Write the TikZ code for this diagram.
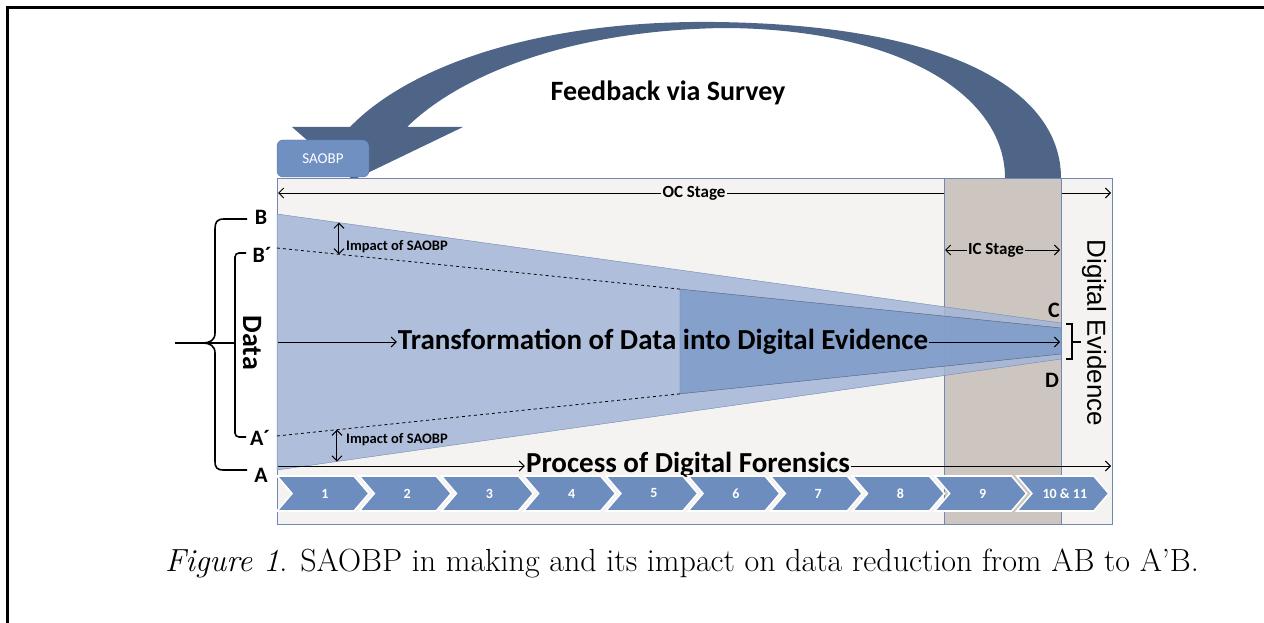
\documentclass[tikz,border=0pt]{standalone}
\usepackage{fontspec}
\usetikzlibrary{arrows.meta,calc}
\newfontfamily\calfont{Carlito}
\newfontfamily\arialfont{Liberation Sans}
\definecolor{boxbg}{HTML}{F5F3F1}
\definecolor{boxline}{HTML}{6F89B3}
\definecolor{icband}{HTML}{CDC5BF}
\definecolor{funnelout}{HTML}{A3B5D6}
\definecolor{funnelin}{HTML}{7E9BC9}
\definecolor{chevfill}{HTML}{6D8DBF}
\definecolor{fbarrow}{HTML}{4E6587}
\definecolor{saobpfill}{HTML}{7090C2}
\definecolor{saobpline}{HTML}{5570A0}

\begin{document}
\begin{tikzpicture}[x=1pt,y=-1pt,
    lbl/.style={font=\calfont\bfseries\fontsize{22}{24}\selectfont, inner sep=0pt},
    big/.style={font=\calfont\bfseries\fontsize{29}{32}\selectfont, inner sep=1pt},
    stage/.style={font=\calfont\bfseries\fontsize{17}{19}\selectfont, inner sep=1pt},
    small/.style={font=\calfont\bfseries\fontsize{14.5}{16}\selectfont, inner sep=1pt},
    arr/.style={-{Straight Barb[length=5pt,width=10pt]}, line width=1pt},
    darr/.style={{Straight Barb[length=5pt,width=10pt]}-{Straight Barb[length=5pt,width=10pt]}, line width=1pt},
    chev/.style={fill=chevfill, draw=white, line width=1.6pt},
    chevtxt/.style={font=\calfont\bfseries\fontsize{14}{16}\selectfont, text=white}]

    \useasboundingbox (0,0) rectangle (1264,623);

    % frame of the page
    \draw[line width=3pt] (7.5,623) -- (7.5,7.5) -- (1264,7.5);

    % feedback arrow
    \fill[fbarrow] (1061,178) .. controls (1061,95) and (960,25) .. (715,22)
        .. controls (540,20) and (410,65) .. (350,127) -- (292,127) -- (353,180)
        -- (463,127) -- (407,127) .. controls (460,75) and (570,30) .. (725,28)
        .. controls (900,29) and (1005,95) .. (1005,178) -- cycle;
    \node[font=\calfont\bfseries\fontsize{28}{32}\selectfont] (feedback) at (668,93) {Feedback via Survey};

    % main box
    \draw[boxline, fill=boxbg] (277,178) rectangle (1112,524);
    \node[stage, fill=boxbg] (oc) at (694,193) {OC Stage};
    \draw[arr] (oc.west) -- (278,193);
    \draw[arr] (oc.east) -- (1111,193);

    % IC stage band
    \draw[boxline, fill=icband] (944,178) rectangle (1061,524);
    \node[stage] (ic) at (996,250) {IC Stage};
    \draw[arr] (ic.west) -- (945,250);
    \draw[arr] (ic.east) -- (1060,250);

    % funnel
    \coordinate (B) at (277,214);
    \coordinate (A) at (277,470);
    \coordinate (C) at (1061,323);
    \coordinate (D) at (1061,359);
    \coordinate (Bp) at (277,248);
    \coordinate (Ap) at (277,436);
    \coordinate (Ci) at (1061,328);
    \coordinate (Di) at (1061,354);
    \coordinate (Ei) at ($(Bp)!0.514!(Ci)$);
    \coordinate (Fi) at ($(Ap)!0.514!(Di)$);
    \fill[funnelout, fill opacity=0.85] (B) -- (C) -- (D) -- (A) -- cycle;
    \fill[funnelin, fill opacity=0.85] (Ei) -- (Ci) -- (Di) -- (Fi) -- cycle;
    \draw[boxline] (B) -- (C) (A) -- (D) (Ei) -- (Fi) (B) -- (A);
    \draw[boxline!70!black, thin] (Ei) -- (Ci) (Fi) -- (Di);
    \draw[dashed, line width=0.8pt] (Bp) -- (Ei);
    \draw[dashed, line width=0.8pt] (Ap) -- (Fi);

    % impact of SAOBP
    \coordinate (i1) at ($(B)!0.079!(C)$);
    \coordinate (i2) at ($(Bp)!0.079!(Ci)$);
    \coordinate (i3) at ($(Ap)!0.0765!(Di)$);
    \coordinate (i4) at ($(A)!0.0765!(D)$);
    \draw[darr] (i1) -- (i2);
    \draw[darr] (i3) -- (i4);
    \node[small, anchor=west] (imp1) at (345,247) {Impact of SAOBP};
    \node[small, anchor=west] (imp2) at (345,440) {Impact of SAOBP};

    % transformation
    \node[big] (trans) at (663,342) {Transformation of Data into Digital Evidence};
    \coordinate (tin) at (278,342);
    \coordinate (tout) at (1060,342);
    \draw[arr] (tin) -- (trans.west);
    \draw[arr] (trans.east) -- (tout);

    % digital evidence
    \node[lbl] (lc) at (1054,310) {C};
    \node[lbl] (ld) at (1052,380) {D};
    \draw[line width=1.2pt] (1066,324) -- (1072,324) -- (1072,359) -- (1066,359);
    \draw[line width=1.2pt] (1072,342) -- (1081,342);
    \node[font=\arialfont\fontsize{26}{28}\selectfont, rotate=-90] (digev) at (1094,333) {Digital Evidence};

    % process of digital forensics
    \node[big] (proc) at (688,465) {Process of Digital Forensics};
    \coordinate (pin) at (278,466);
    \coordinate (pout) at (1111,466);
    \draw[arr] (pin) -- (proc.west |- pin);
    \draw[arr] (proc.east |- pin) -- (pout);

    % steps
    \foreach \i/\t in {1/1,2/2,3/3,4/4,5/5,6/6,7/7,8/8,9/9,10/10 \& 11} {
        \pgfmathsetmacro{\xl}{277+82.2*(\i-1)}
        \draw[chev] (\xl,476) -- (\xl+77,476) -- (\xl+92,493.5) -- (\xl+77,511)
            -- (\xl,511) -- (\xl+15,493.5) -- cycle;
        \node[chevtxt] (chev\i) at (\xl+48,493.5) {\t};
    }

    % data labels and braces
    \node[lbl] (lb) at (261,217) {B};
    \node[lbl] (lbp) at (262,255) {B´};
    \node[lbl] (lap) at (260,438) {A´};
    \node[lbl] (la) at (261,475) {A};
    \draw[line width=1.6pt] (247,219) -- (224,219) .. controls (217,219) and (215,222) .. (215,229)
        -- (215,333) .. controls (215,340) and (210,343) .. (203,343)
        .. controls (210,343) and (215,346) .. (215,353)
        -- (215,461) .. controls (215,468) and (217,470) .. (224,470) -- (247,470);
    \draw[line width=1.6pt] (175,343) -- (235,343);
    \draw[line width=1.6pt, rounded corners=4pt] (246,253) -- (235,253) -- (235,437) -- (246,437);
    \node[font=\calfont\bfseries\fontsize{28}{30}\selectfont, rotate=-90] (data) at (252,343) {Data};

    % SAOBP box
    \node[draw=saobpline, fill=saobpfill, rounded corners=6pt, minimum width=92pt,
        minimum height=37pt, text=white, font=\calfont\fontsize{15}{17}\selectfont]
        (saobp) at (323,158.5) {SAOBP};

    % caption
    \node[anchor=base, font=\fontsize{32}{36}\selectfont, inner sep=0pt] (caption) at (682,571)
        {\textit{Figure 1}. SAOBP in making and its impact on data reduction from AB to A'B.};
\end{tikzpicture}
\end{document}
